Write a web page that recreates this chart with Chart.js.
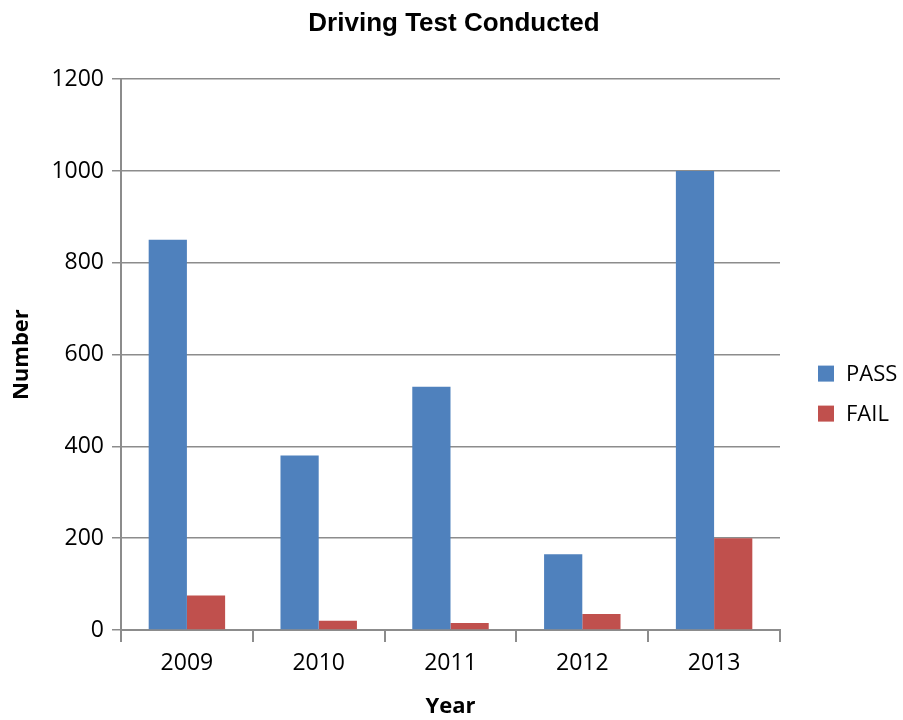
<!DOCTYPE html>
<html>
<head>
<meta charset="utf-8">
<script src="https://cdn.jsdelivr.net/npm/chart.js@4/dist/chart.umd.min.js"></script>
<style>
  html, body { margin: 0; padding: 0; background: #fff; }
  #wrap { width: 903px; height: 720px; }
</style>
</head>
<body>
<div id="wrap"><canvas id="chart" width="903" height="720"></canvas></div>
<script>
// values
const years = ['2009', '2010', '2011', '2012', '2013'];
const passCounts = [850, 380, 530, 165, 1000];
const failCounts = [75, 20, 15, 35, 200];

const gridColor = '#8c8c8c';
const fontFamily = "'Open Sans', 'Noto Sans', sans-serif";
const tickFont = { family: fontFamily, size: 23 };
const axisTitleFont = { family: fontFamily, size: 22, weight: 'bold' };

// legend drawn to the right of the plot, like the original (box + label, stacked)
const sideLegend = {
    id: 'sideLegend',
    afterDraw(chart) {
        const c = chart.ctx;
        const area = chart.chartArea;
        const x = area.right + 38;
        const midY = (area.top + area.bottom) / 2 + 39;
        const step = 40;
        const sets = chart.data.datasets;
        c.save();
        c.font = '22px ' + fontFamily;
        c.textBaseline = 'middle';
        c.textAlign = 'left';
        sets.forEach((ds, i) => {
            const y = midY + (i - (sets.length - 1) / 2) * step;
            c.fillStyle = ds.backgroundColor;
            c.fillRect(x, y - 8, 16, 16);
            c.fillStyle = '#000';
            c.fillText(ds.label, x + 28, y + 1);
        });
        c.restore();
    }
};

const ctx = document.getElementById('chart').getContext('2d');
new Chart(ctx, {
    type: 'bar',
    data: {
        labels: years,
        datasets: [
            { label: 'PASS', data: passCounts, backgroundColor: '#4f81bd' },
            { label: 'FAIL', data: failCounts, backgroundColor: '#c0504d' }
        ]
    },
    options: {
        responsive: false,
        animation: false,
        devicePixelRatio: 1,
        layout: { padding: { top: 4, right: 0, bottom: 0, left: 5 } },
        datasets: { bar: { categoryPercentage: 0.58, barPercentage: 1.0 } },
        plugins: {
            title: {
                display: true,
                text: 'Driving Test Conducted',
                color: '#000',
                font: { family: "'Liberation Sans Narrow', 'Liberation Sans', Arial, sans-serif", size: 26, weight: 'bold' },
                padding: { top: 4, bottom: 40 }
            },
            legend: { display: false },
            tooltip: { enabled: false }
        },
        scales: {
            x: {
                offset: true,
                grid: { display: true, drawOnChartArea: false, drawTicks: true, tickLength: 12, color: gridColor, lineWidth: 2, offset: true },
                border: { color: gridColor, width: 2 },
                ticks: { color: '#000', font: tickFont, padding: 8 },
                title: { display: true, text: 'Year', color: '#000', font: axisTitleFont, padding: { top: 8, bottom: 0 } }
            },
            y: {
                min: 0,
                max: 1200,
                ticks: { stepSize: 200, color: '#000', font: tickFont, padding: 8, callback: v => String(v) },
                grid: { color: gridColor, lineWidth: 1.5, drawTicks: true, tickLength: 9 },
                border: { color: gridColor, width: 2 },
                title: { display: true, text: 'Number', color: '#000', font: axisTitleFont, padding: { bottom: 8 } }
            },
            // empty axis on the right that only reserves room for the legend
            side: {
                type: 'linear',
                position: 'right',
                grid: { display: false },
                border: { display: false },
                ticks: { display: false },
                afterFit: s => { s.width = 123; }
            }
        }
    },
    plugins: [sideLegend]
});
</script>
</body>
</html>
